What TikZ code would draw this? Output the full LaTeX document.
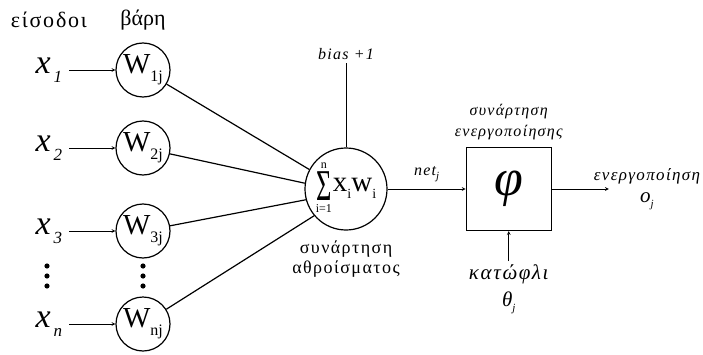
\documentclass[tikz,border=0pt]{standalone}
\usepackage{fontspec}
\setmainfont{Liberation Serif}
\newfontfamily\spacedfont[LetterSpace=8]{Liberation Serif}
\usetikzlibrary{arrows,positioning}

\newcommand{\wsub}[1]{W\raisebox{-8pt}{\fontsize{16}{16}\selectfont #1}}
\newcommand{\xsub}[1]{\textit{x}\kern3pt\raisebox{-9pt}{\fontsize{17}{17}\selectfont\itshape #1}}
\newcommand{\lowsub}[2]{\raisebox{-#1}{\fontsize{11}{11}\selectfont\itshape #2}}
\newcommand{\sumterm}{%
  {\fontsize{8}{8}\selectfont
  \begin{tabular}{@{}c@{}}
  {\fontsize{12}{12}\selectfont n}\\[1pt]
  \scalebox{0.6}[1]{\fontsize{44}{40}\selectfont Σ}\\[2pt]
  {\fontsize{12}{12}\selectfont i=1}
  \end{tabular}}%
  \kern1pt{\fontsize{29}{29}\selectfont x\raisebox{-7pt}{\fontsize{14}{14}\selectfont i}w\raisebox{-7pt}{\fontsize{14}{14}\selectfont i}}}

\begin{document}
\begin{tikzpicture}[
    x=1pt, y=1pt,
    every node/.style={align=center},
    weight/.style={circle, draw, line width=1.2pt, minimum size=54pt, inner sep=0pt, font=\fontsize{29}{29}\selectfont},
    summer/.style={circle, draw, line width=1.2pt, minimum size=82pt, inner sep=0pt},
    actbox/.style={rectangle, draw, line width=1.2pt, minimum width=85pt, minimum height=83pt, font=\fontsize{52}{52}\selectfont\itshape},
    inlabel/.style={font=\fontsize{34}{34}\selectfont, inner xsep=7pt, inner ysep=0pt},
    header/.style={font=\fontsize{22}{24}\selectfont},
    caption/.style={font=\fontsize{18}{20}\selectfont\spacedfont},
    note/.style={font=\fontsize{16}{21}\selectfont\spacedfont\itshape},
    bignote/.style={font=\fontsize{21}{27}\selectfont\spacedfont\itshape},
    link/.style={line width=1.2pt},
    arrow/.style={->, >=stealth, line width=0.7pt}
]
\useasboundingbox (0,0) rectangle (703,354);

% Weights
\node[weight] (w1) at (143,284) {\wsub{1j}};
\node[weight] (w2) at (143,206) {\wsub{2j}};
\node[weight] (w3) at (143,123) {\wsub{3j}};
\node[weight] (wn) at (143,30) {\wsub{nj}};

% Inputs
\node[inlabel, left=46pt of w1] (x1) {\xsub{1}};
\node[inlabel, left=46pt of w2] (x2) {\xsub{2}};
\node[inlabel, left=46pt of w3] (x3) {\xsub{3}};
\node[inlabel, left=46pt of wn] (xn) {\xsub{n}};

\node[header, above=9pt of w1] (hdrw) {βάρη};
\node[header] (hdrx) at (x1 |- hdrw) {\spacedfont είσοδοι};

% Summation and activation
\node[summer] (sum) at (346,165) {\sumterm};
\node[note, above=84pt of sum] (bias) {bias +1};
\node[caption, below=7pt of sum] (sumlbl) {συνάρτηση\\αθροίσματος};
\node[actbox, right=78pt of sum] (phi) {φ};
\node[note, above=3pt of phi] (actlbl) {συνάρτηση\\ενεργοποίησης};
\node[bignote, below=30pt of phi] (thr) {κατώφλι\\θ\lowsub{5pt}{j}};
\coordinate[right=57pt of phi] (outend);
\node[note, font=\fontsize{17}{22}\selectfont\spacedfont\itshape] (outlbl) at (647,165) {ενεργοποίηση\\{\fontsize{21}{21}\selectfont o}\lowsub{5pt}{j}};

% Connections
\draw[arrow] (x1) -- (w1);
\draw[arrow] (x2) -- (w2);
\draw[arrow] (x3) -- (w3);
\draw[arrow] (xn) -- (wn);
\draw[link] (w1) -- (sum.152);
\draw[link] (w2) -- (sum.172);
\draw[link] (w3) -- (sum.195);
\draw[link] (wn) -- (sum.220);
\draw[line width=0.7pt] (bias) -- (sum);
\draw[arrow] (sum) -- (phi) node[note, midway, above=3pt] (netlbl) {net\lowsub{4pt}{j}};
\draw[arrow] (thr) -- (phi);
\draw[arrow] (phi) -- (outend);

% Dots
\foreach \yy in {88,78,68} {
  \fill (47,\yy) circle (2.6pt);
  \fill (143,\yy) circle (2.6pt);
}

\end{tikzpicture}
\end{document}
